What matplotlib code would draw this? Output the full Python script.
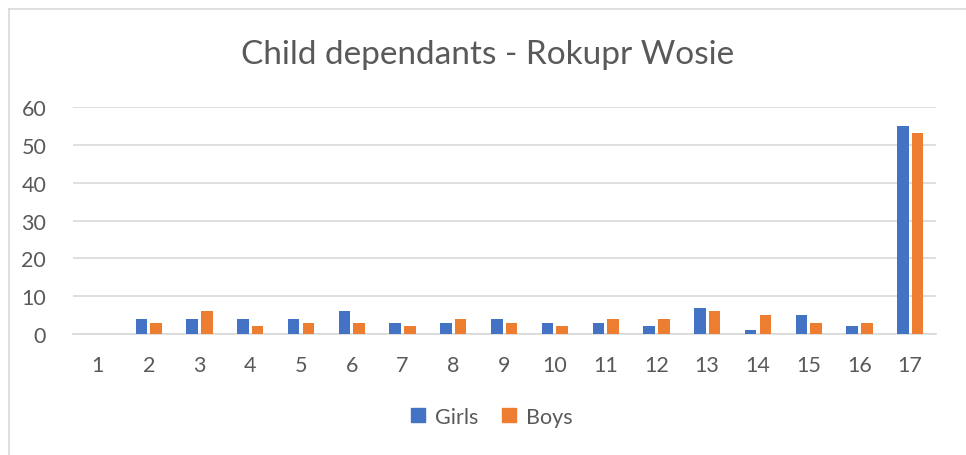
import numpy as np
import matplotlib.pyplot as plt
from matplotlib.lines import Line2D

# ── data ──────────────────────────────────────────────────────────────────────
categories = [str(i) for i in range(1, 18)]
girls = [0, 4, 4, 4, 4, 6, 3, 3, 4, 3, 3, 2, 7, 1, 5, 2, 55]
boys  = [0, 3, 6, 2, 3, 3, 2, 4, 3, 2, 4, 4, 6, 5, 3, 3, 53]
y_ticks = [0, 10, 20, 30, 40, 50, 60]

GIRLS_C = "#4472C4"
BOYS_C  = "#ED7D31"
TEXT_C  = "#595959"
GRID_C  = "#D9D9D9"

plt.rcParams['font.family'] = ['Lato', 'DejaVu Sans']

fig = plt.figure(figsize=(9.66, 4.56), dpi=100)
ax = fig.add_axes([72.6 / 966, 121 / 456, 863 / 966, 227 / 456])

x = np.arange(len(categories))
w = 0.227
off = 0.145
ax.bar(x - off, girls, w, color=GIRLS_C, label="Girls", zorder=3)
ax.bar(x + off, boys, w, color=BOYS_C, label="Boys", zorder=3)

ax.set_xlim(-0.5, len(categories) - 0.5)
ax.set_ylim(0, 60)
ax.set_yticks(y_ticks)
ax.set_xticks(x)
ax.set_xticklabels(categories)
ax.yaxis.grid(True, color=GRID_C, linewidth=1.2, zorder=0)
ax.set_axisbelow(True)
for s in ["top", "right", "left"]:
    ax.spines[s].set_visible(False)
ax.spines["bottom"].set_color(GRID_C)
ax.spines["bottom"].set_linewidth(1.2)
ax.tick_params(axis="both", length=0, labelsize=15.5, labelcolor=TEXT_C)
ax.tick_params(axis="y", pad=19)
ax.tick_params(axis="x", pad=15)

fig.text(488 / 966, 1 - 55 / 456, "Child dependants - Rokupr Wosie",
         ha="center", va="center", fontsize=24, color=TEXT_C)

handles = [Line2D([], [], marker="s", linestyle="", markersize=10, color=GIRLS_C),
           Line2D([], [], marker="s", linestyle="", markersize=10, color=BOYS_C)]
fig.legend(handles, ["Girls", "Boys"], loc="center", bbox_to_anchor=(490 / 966, 1 - 418 / 456),
           ncol=2, frameon=False, fontsize=15.5, labelcolor=TEXT_C,
           handletextpad=0.3, columnspacing=0.9, handlelength=1.0)

# chart border (cropped: only left and top edges visible)
fig.add_artist(Line2D([9 / 966, 9 / 966], [0, 1 - 10 / 456], color=GRID_C, linewidth=1.2,
                      transform=fig.transFigure))
fig.add_artist(Line2D([9 / 966, 1], [1 - 10 / 456, 1 - 10 / 456], color=GRID_C, linewidth=1.2,
                      transform=fig.transFigure))

plt.savefig("out.png", dpi=100)
